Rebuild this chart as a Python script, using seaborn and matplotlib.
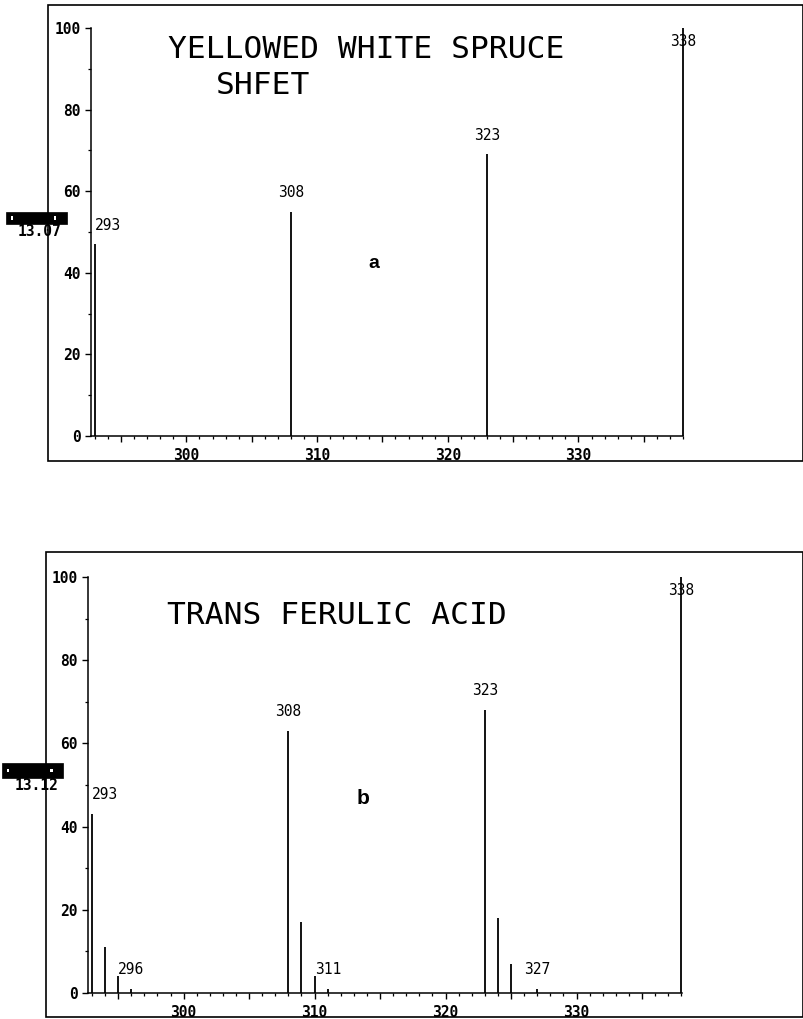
import matplotlib
matplotlib.use("Agg")
import matplotlib.pyplot as plt
from matplotlib.patches import Rectangle
from matplotlib.ticker import MultipleLocator, FuncFormatter
import seaborn as sns

# ---- spectrum data (m/z, relative abundance %) ----
mz_a = [293, 308, 323, 338]
int_a = [47, 55, 69, 100]
labels_a = [293, 308, 323, 338]

mz_b = [293, 294, 295, 296, 308, 309, 310, 311, 323, 324, 325, 327, 338]
int_b = [43, 11, 4, 1, 63, 17, 4, 1, 68, 18, 7, 1, 100]
labels_b = [293, 296, 308, 311, 323, 327, 338]

title_a = ["YELLOWED WHITE SPRUCE", "SHFET"]
title_b = ["TRANS FERULIC ACID"]
scan_a = "13.07"
scan_b = "13.12"

yticks = [0, 20, 40, 60, 80, 100]
xticks = [300, 310, 320, 330]

sns.set_theme(style="ticks")
plt.rcParams["font.family"] = ["DejaVu Sans Mono", "DejaVu Sans"]
plt.rcParams["text.color"] = "black"
plt.rcParams["xtick.color"] = "black"
plt.rcParams["ytick.color"] = "black"
plt.rcParams["xtick.labelcolor"] = "black"
plt.rcParams["ytick.labelcolor"] = "black"
plt.rcParams["axes.edgecolor"] = "black"

W, H = 804, 1019
fig = plt.figure(figsize=(W / 100, H / 100), dpi=100)
fig.patch.set_facecolor("white")


def fx(px):
    return px / W


def fy(py):
    return 1 - py / H


MONO = "DejaVu Sans Mono"
LBL = 10.5


def style_axes(ax, xlim):
    ax.set_xlim(*xlim)
    ax.set_ylim(0, 100)
    sns.despine(ax=ax)
    for s in ("left", "bottom"):
        ax.spines[s].set_linewidth(1.1)
        ax.spines[s].set_color("black")
    ax.set_yticks(yticks)
    ax.yaxis.set_minor_locator(MultipleLocator(10))
    ax.xaxis.set_major_locator(MultipleLocator(5))
    ax.xaxis.set_minor_locator(MultipleLocator(1))
    ax.xaxis.set_major_formatter(
        FuncFormatter(lambda v, p: f"{int(round(v))}" if int(round(v)) in xticks else ""))
    ax.tick_params(axis="both", which="major", direction="out", length=4.5,
                   width=1.0, color="black", labelsize=LBL, pad=3)
    ax.tick_params(axis="both", which="minor", direction="out", length=2,
                   width=0.9, color="black")
    ax.tick_params(axis="x", which="major", pad=4)
    for lab in ax.get_xticklabels() + ax.get_yticklabels():
        lab.set_fontfamily(MONO)
        lab.set_fontweight("bold")
        lab.set_color("black")
    ax.set_facecolor("white")
    ax.patch.set_alpha(0)


def draw_spectrum(ax, mz, inten, labels):
    ax.vlines(mz, 0, inten, colors="black", linewidth=1.3, clip_on=False, zorder=3)
    lookup = dict(zip(mz, inten))
    for m in labels:
        h = lookup[m]
        if m == 293:
            ax.text(m, h + 4.6, str(m), ha="left", va="center", fontsize=LBL,
                    family=MONO, color="black", zorder=4)
        elif h >= 100:
            ax.text(m, 96.8, str(m), ha="center", va="center", fontsize=LBL,
                    family=MONO, color="black", zorder=4)
        else:
            ax.text(m, h + 4.6, str(m), ha="center", va="center", fontsize=LBL,
                    family=MONO, color="black", zorder=4)


# ---- panel a ----
axA = fig.add_axes([fx(91), fy(436), fx(683 - 91), (436 - 28) / H])
style_axes(axA, (292.7, 338.0))
draw_spectrum(axA, mz_a, int_a, labels_a)

# ---- panel b ----
axB = fig.add_axes([fx(88), fy(993), fx(682 - 88), (993 - 577) / H])
style_axes(axB, (292.7, 338.05))
draw_spectrum(axB, mz_b, int_b, labels_b)

# ---- outer frames ----
for (x0, y0, x1, y1) in [(48, 5, 803, 461), (46, 552, 803, 1017)]:
    fig.patches.append(Rectangle((fx(x0), fy(y1)), fx(x1 - x0), (y1 - y0) / H,
                                 transform=fig.transFigure, fill=False,
                                 edgecolor="black", linewidth=1.2, zorder=1))

# ---- titles ----
TSZ = 22.5
fig.text(fx(168), fy(50), title_a[0], ha="left", va="center", fontsize=TSZ, family=MONO)
fig.text(fx(216), fy(86), title_a[1], ha="left", va="center", fontsize=TSZ, family=MONO)
fig.text(fx(167), fy(615), title_b[0], ha="left", va="center", fontsize=TSZ, family=MONO)

# ---- panel letters ----
fig.text(fx(374), fy(263), "a", ha="center", va="center", fontsize=14,
         fontweight="bold", family="Liberation Sans")
fig.text(fx(363), fy(798), "b", ha="center", va="center", fontsize=15,
         fontweight="bold", family="Liberation Sans")

# ---- scan markers on the left edge ----
for (bx0, by0, bx1, by1, tx, ty, txt) in [(6, 212, 67, 224, 40, 232, scan_a),
                                          (2, 763, 63, 778, 37, 785, scan_b)]:
    fig.patches.append(Rectangle((fx(bx0), fy(by1)), fx(bx1 - bx0), (by1 - by0) / H,
                                 transform=fig.transFigure, facecolor="black",
                                 edgecolor="black", linewidth=0.5, zorder=5))
    for wx in (bx0 + 5, bx1 - 13):
        fig.patches.append(Rectangle((fx(wx), fy((by0 + by1) / 2 + 1.5)), fx(2.5), 3 / H,
                                     transform=fig.transFigure, facecolor="white",
                                     edgecolor="none", zorder=6))
    fig.text(fx(tx), fy(ty), txt, ha="center", va="center", fontsize=LBL,
             fontweight="bold", family=MONO, zorder=6)

fig.savefig("out.png", dpi=100, facecolor="white")
